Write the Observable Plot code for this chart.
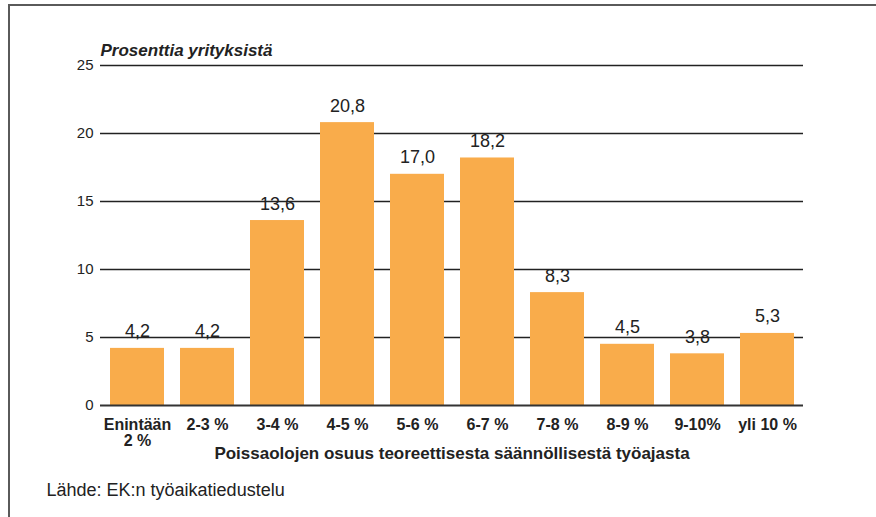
<!DOCTYPE html>
<html>
<head>
<meta charset="utf-8">
<script src="https://cdn.jsdelivr.net/npm/d3@7"></script>
<script src="https://cdn.jsdelivr.net/npm/@observablehq/plot@0.6"></script>
<style>
  html, body { margin: 0; padding: 0; background: #fff; }
  #wrap { position: relative; width: 876px; height: 517px; overflow: hidden; }
  #frame { position: absolute; left: 8px; top: 4px; width: 900px; height: 600px;
           border-left: 2px solid #5a5a5a; border-top: 2px solid #5a5a5a; pointer-events: none; }
  #chart { position: absolute; left: 0; top: 0; }
</style>
</head>
<body>
<div id="wrap"><div id="chart"></div><div id="frame"></div></div>
<script>
const categories = ["Enintään\n2 %", "2-3 %", "3-4 %", "4-5 %", "5-6 %", "6-7 %", "7-8 %", "8-9 %", "9-10%", "yli 10 %"];
const values = [4.2, 4.2, 13.6, 20.8, 17.0, 18.2, 8.3, 4.5, 3.8, 5.3];
const yTicks = [0, 5, 10, 15, 20, 25];
const gridTicks = [5, 10, 15, 20, 25];
const yLabel = "Prosenttia yrityksistä";
const xLabel = "Poissaolojen osuus teoreettisesta säännöllisestä työajasta";
const source = "Lähde: EK:n työaikatiedustelu";

const data = categories.map((c, i) => ({category: c, value: values[i]}));
const fmt = v => v.toFixed(1).replace(".", ",");
const font = "'Liberation Sans', Arial, Helvetica, sans-serif";

const chart = Plot.plot({
  width: 876,
  height: 517,
  marginLeft: 100,
  marginRight: 73,
  marginTop: 65,
  marginBottom: 112,
  style: {fontFamily: font, fontSize: "15px", color: "#222", background: "transparent"},
  x: {domain: categories, paddingInner: 0.23, paddingOuter: 0.115, label: null},
  y: {domain: [0, 25], label: null},
  marks: [
    Plot.ruleY(gridTicks, {stroke: "#222", strokeWidth: 1.5}),
    Plot.barY(data, {x: "category", y: "value", fill: "#f9ac4b"}),
    Plot.ruleY([0], {stroke: "#333", strokeWidth: 2}),
    Plot.axisY(yTicks, {tickSize: 0, tickPadding: 7, fontSize: 15, label: null, fill: "#222"}),
    Plot.axisX({tickSize: 0, tickPadding: 13, fontSize: 16, fontWeight: "bold", label: null, fill: "#222", lineHeight: 1.0}),
    Plot.text(data, {x: "category", y: "value", text: d => fmt(d.value), lineAnchor: "bottom", dy: -11, fontSize: 18, fill: "#222"}),
    Plot.text([yLabel], {frameAnchor: "top-left", textAnchor: "start", dy: -22, fontSize: 17, fontWeight: "bold", fontStyle: "italic", fill: "#222"}),
    Plot.text([xLabel], {frameAnchor: "bottom", dy: 53, fontSize: 17, fontWeight: "bold", fill: "#222"}),
    Plot.text([source], {frameAnchor: "bottom-left", textAnchor: "start", dx: -54, dy: 90, fontSize: 18, fill: "#222"})
  ]
});
document.getElementById("chart").appendChild(chart);
</script>
</body>
</html>
